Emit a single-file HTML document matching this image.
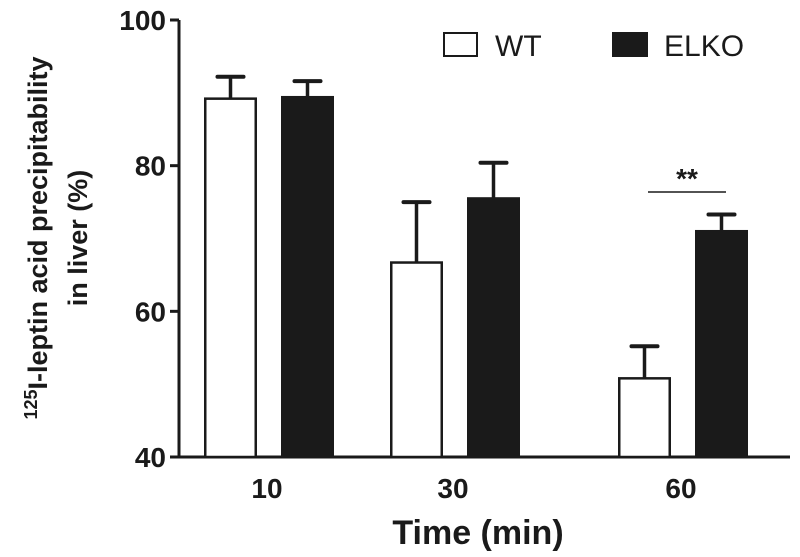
<!DOCTYPE html>
<html><head><meta charset="utf-8"><style>
html,body{margin:0;padding:0;background:#fff;}
text{font-family:"Liberation Sans",Arial,sans-serif;fill:#1a1a1a;}
</style></head><body>
<svg id="chart" width="800" height="552" viewBox="0 0 800 552" xmlns="http://www.w3.org/2000/svg">
<g id="g"></g>
</svg>
<script>
const categories = ["10","30","60"];
const wtValues = [89.2, 66.7, 50.8];
const wtErrors = [3.0, 8.3, 4.4];
const elkoValues = [89.4, 75.5, 71.0];
const elkoErrors = [2.2, 4.9, 2.3];
const yTicks = [40, 60, 80, 100];

const NS="http://www.w3.org/2000/svg";
const g=document.getElementById('g');
const y0=457, yTop=20, vMin=40, vMax=100;
function y(v){return y0-(v-vMin)/(vMax-vMin)*(y0-yTop);}
const axisX=179, barW=53;
const groupStart=[204,390,618], gap=24;
function mk(tag,attrs,parent){const e=document.createElementNS(NS,tag);for(const k in attrs)e.setAttribute(k,attrs[k]);(parent||g).appendChild(e);return e;}

let a=mk('line',{x1:axisX,y1:yTop,x2:axisX,y2:y0+1.5,stroke:'#1a1a1a','stroke-width':3});


a=mk('line',{x1:axisX-1.5,y1:y0,x2:790,y2:y0,stroke:'#1a1a1a','stroke-width':3});


yTicks.forEach(t=>{
  const l=mk('line',{x1:axisX-9,y1:y(t),x2:axisX,y2:y(t),stroke:'#1a1a1a','stroke-width':3});
  
  
  const tx=mk('text',{x:axisX-13,y:y(t)+10,'text-anchor':'end','font-size':28,'font-weight':'bold'});
  tx.textContent=t;
  
  
});

function bar(x,v,e,filled,name){
  const top=y(v), cap=y(v+e);
  const ln=mk('line',{x1:x+barW/2,y1:top,x2:x+barW/2,y2:cap,stroke:'#1a1a1a','stroke-width':3.5});
  
  
  const c=mk('line',{x1:x+barW/2-13,y1:cap,x2:x+barW/2+13,y2:cap,stroke:'#1a1a1a','stroke-width':4,'stroke-linecap':'round'});
  
  
  const r=mk('rect',{x:x+1.25,y:top,width:barW-2.5,height:y0-top,fill:filled?'#1a1a1a':'#fff',stroke:'#1a1a1a','stroke-width':2.5});
  
  
}
categories.forEach((c,i)=>{
  const xs=groupStart[i];
  bar(xs,wtValues[i],wtErrors[i],false,'bar-wt-'+c);
  bar(xs+barW+gap,elkoValues[i],elkoErrors[i],true,'bar-elko-'+c);
  const t=mk('text',{x:xs+barW+gap/2-2,y:498,'text-anchor':'middle','font-size':28,'font-weight':'bold'});
  t.textContent=c;
  
  
});
let s=mk('line',{x1:648,y1:192,x2:726,y2:192,stroke:'#1a1a1a','stroke-width':1.5});


s=mk('text',{x:687,y:188,'text-anchor':'middle','font-size':28,'font-weight':'bold'});
s.textContent='**';


let lg=mk('rect',{x:444,y:33,width:33,height:23,fill:'#fff',stroke:'#1a1a1a','stroke-width':2});


lg=mk('text',{x:495,y:56,'font-size':30});
lg.textContent='WT';


lg=mk('rect',{x:612,y:32,width:36,height:25,fill:'#1a1a1a'});


lg=mk('text',{x:664,y:56,'font-size':30});
lg.textContent='ELKO';


let xt=mk('text',{x:478,y:544,'text-anchor':'middle','font-size':34,'font-weight':'bold'});
xt.textContent='Time (min)';


let yt=mk('text',{transform:'translate(47,238) rotate(-90)','text-anchor':'middle','font-size':27,'font-weight':'bold'});
yt.innerHTML='<tspan font-size="18" dy="-10">125</tspan><tspan dy="10">I-leptin acid precipitability</tspan>';


let yt2=mk('text',{transform:'translate(87,238) rotate(-90)','text-anchor':'middle','font-size':27,'font-weight':'bold'});
yt2.textContent='in liver (%)';


</script>
</body></html>
